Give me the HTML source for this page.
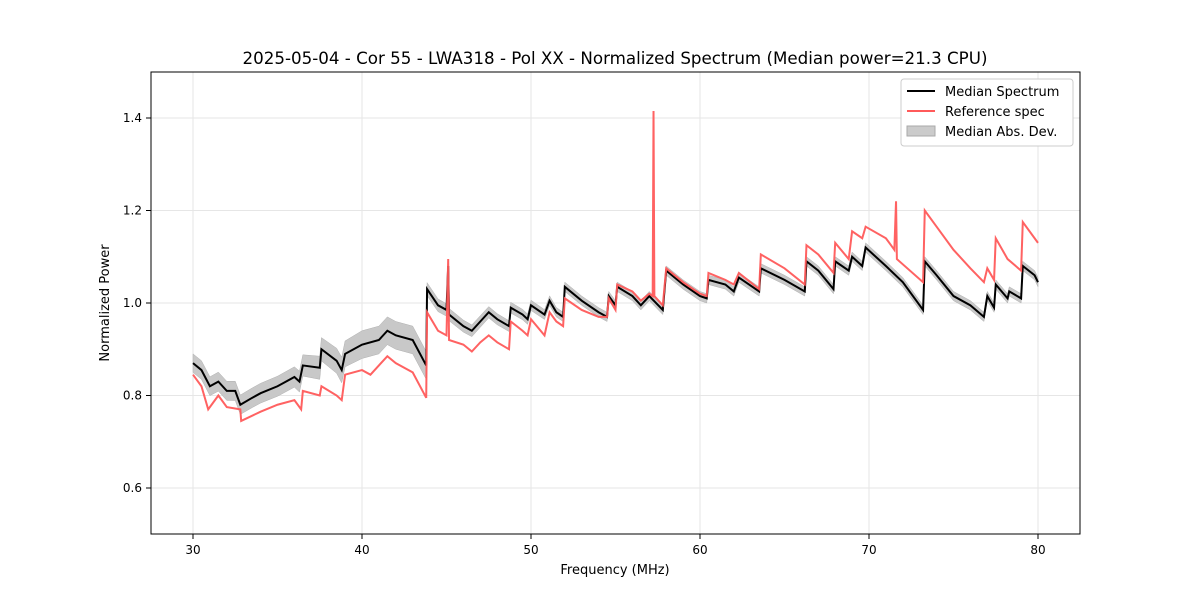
<!DOCTYPE html>
<html><head><meta charset="utf-8">
<style>
body{margin:0;background:#fff;font-family:"Liberation Sans","DejaVu Sans",sans-serif;}
svg text{font-family:"DejaVu Sans","Liberation Sans",sans-serif;}
</style></head>
<body>
<svg id="chart" width="1200" height="600" viewBox="0 0 1200 600">
<rect width="1200" height="600" fill="#fff"/>
<text x="615" y="64" text-anchor="middle" font-size="16.7">2025-05-04 - Cor 55 - LWA318 - Pol XX - Normalized Spectrum (Median power=21.3 CPU)</text>
<g id="grid"></g>
<g id="series"></g>
<rect x="151" y="72" width="929" height="462" fill="none" stroke="#000" stroke-width="1"/>
<g id="axes"></g>
<text x="615" y="574" text-anchor="middle" font-size="13">Frequency (MHz)</text>
<text transform="translate(109,303) rotate(-90)" text-anchor="middle" font-size="13">Normalized Power</text>
<g>
<rect x="901" y="79" width="172" height="67" rx="3" fill="#fff" stroke="#ccc"/>
<line x1="907" y1="91" x2="935" y2="91" stroke="#000" stroke-width="2"/>
<text x="945" y="96" font-size="13">Median Spectrum</text>
<line x1="907" y1="111" x2="935" y2="111" stroke="#ff5a5a" stroke-width="2"/>
<text x="945" y="116" font-size="13">Reference spec</text>
<rect x="907" y="126" width="28" height="10" fill="#cbcbcb" stroke="#aaa"/>
<text x="945" y="136" font-size="13">Median Abs. Dev.</text>
</g>
</svg>
<script>
const medFreq=[30,30.5,31,31.5,32,32.5,32.8,33.5,34,35,36,36.3,36.5,37.5,37.6,38.5,38.8,39,40,41,41.5,42,43,43.8,43.85,44.5,45,45.1,45.15,46,46.5,47,47.5,48,48.7,48.8,49.5,49.8,50,50.8,51.1,51.5,51.9,52,53,54,54.5,54.6,55,55.1,56,56.5,57,57.8,58,59,60,60.4,60.5,61.5,62,62.3,63.5,63.6,65,66.2,66.3,67,67.9,68,68.8,69,69.6,69.8,71,72,73.2,73.3,74,75,76,76.8,77,77.4,77.5,78.2,78.3,79,79.1,79.8,80];
const medVal=[0.87,0.855,0.82,0.83,0.81,0.81,0.78,0.795,0.805,0.82,0.84,0.83,0.865,0.86,0.9,0.875,0.855,0.89,0.91,0.92,0.94,0.93,0.92,0.865,1.03,0.995,0.985,1.08,0.975,0.95,0.94,0.96,0.98,0.965,0.95,0.99,0.975,0.965,0.995,0.975,1.005,0.98,0.97,1.035,1.005,0.98,0.97,1.015,0.995,1.035,1.015,0.995,1.015,0.985,1.07,1.04,1.015,1.01,1.05,1.04,1.025,1.055,1.025,1.075,1.05,1.025,1.09,1.07,1.03,1.09,1.07,1.1,1.08,1.12,1.08,1.045,0.985,1.09,1.06,1.015,0.995,0.97,1.015,0.99,1.04,1.01,1.025,1.01,1.08,1.06,1.045];
const madFreq=[30,36,40,43.8,43.85,52,80];
const madWidth=[0.02,0.022,0.03,0.03,0.014,0.01,0.01];
const refFreq=[30,30.5,30.9,31.5,32,32.8,32.85,34,35,36,36.4,36.5,37.5,37.6,38.5,38.8,39,40,40.5,41,41.5,42,43,43.8,43.85,44.5,45,45.1,45.15,46,46.5,47,47.5,48,48.7,48.8,49.5,49.8,50,50.8,51.1,51.5,51.9,52,53,54,54.5,54.6,55,55.1,56,56.5,57,57.2,57.25,57.3,57.8,58,59,60,60.4,60.5,61.5,62,62.3,63.5,63.6,65,66.2,66.3,67,67.9,68,68.8,69,69.6,69.8,71,71.5,71.6,71.65,73.2,73.3,74,75,76,76.8,77,77.4,77.5,78.2,79,79.1,80];
const refVal=[0.845,0.82,0.77,0.8,0.775,0.77,0.745,0.765,0.78,0.79,0.77,0.81,0.8,0.82,0.8,0.79,0.845,0.855,0.845,0.865,0.885,0.87,0.85,0.795,0.98,0.94,0.93,1.095,0.92,0.91,0.895,0.915,0.93,0.915,0.9,0.96,0.94,0.93,0.965,0.93,0.98,0.96,0.95,1.01,0.985,0.97,0.97,1.01,0.985,1.04,1.025,1.005,1.02,1.015,1.415,1.015,0.995,1.075,1.045,1.02,1.015,1.065,1.05,1.04,1.065,1.03,1.105,1.075,1.04,1.125,1.105,1.065,1.13,1.095,1.155,1.14,1.165,1.14,1.115,1.22,1.095,1.045,1.2,1.165,1.115,1.075,1.045,1.075,1.05,1.14,1.095,1.07,1.175,1.13];
const xTicks=[30,40,50,60,70,80];
const yTicks=[0.6,0.8,1.0,1.2,1.4];
const yTickLabels=["0.6","0.8","1.0","1.2","1.4"];

const NS="http://www.w3.org/2000/svg";
const X=f=>193+(f-30)*16.9;
const Y=v=>303-(v-1)*462.5;
function mk(tag,attrs,parent){const e=document.createElementNS(NS,tag);for(const k in attrs)e.setAttribute(k,attrs[k]);parent.appendChild(e);return e;}
function madAt(f){for(let i=1;i<madFreq.length;i++){if(f<=madFreq[i]){const t=(f-madFreq[i-1])/(madFreq[i]-madFreq[i-1]);return madWidth[i-1]+t*(madWidth[i]-madWidth[i-1]);}}return madWidth[madWidth.length-1];}
const grid=document.getElementById('grid'),axes=document.getElementById('axes'),ser=document.getElementById('series');
xTicks.forEach(t=>{
 const g=mk('line',{x1:X(t),x2:X(t),y1:72,y2:534,stroke:'#e6e6e6'},grid);
 
 
 const tk=mk('line',{x1:X(t),x2:X(t),y1:534,y2:539,stroke:'#000'},axes);
 
 
 const tx=mk('text',{x:X(t),y:554,'text-anchor':'middle','font-size':12},axes);
 tx.textContent=t;
 
 
});
yTicks.forEach((t,i)=>{
 const g=mk('line',{x1:151,x2:1080,y1:Y(t),y2:Y(t),stroke:'#e6e6e6'},grid);
 
 
 const tk=mk('line',{x1:146,x2:151,y1:Y(t),y2:Y(t),stroke:'#000'},axes);
 
 
 const tx=mk('text',{x:142,y:Y(t)+4,'text-anchor':'end','font-size':12},axes);
 tx.textContent=yTickLabels[i];
 
 
});
let up=medFreq.map((f,i)=>X(f)+','+Y(medVal[i]+madAt(f))).join(' ');
let dn=medFreq.map((f,i)=>X(f)+','+Y(medVal[i]-madAt(f))).reverse().join(' ');
const band=mk('polygon',{points:up+' '+dn,fill:'#c8c8c8',stroke:'#b0b0b0','stroke-width':0.5},ser);


const med=mk('polyline',{points:medFreq.map((f,i)=>X(f)+','+Y(medVal[i])).join(' '),fill:'none',stroke:'#000','stroke-width':2},ser);


const ref=mk('polyline',{points:refFreq.map((f,i)=>X(f)+','+Y(refVal[i])).join(' '),fill:'none',stroke:'#ff5a5a','stroke-width':2,'stroke-opacity':0.95},ser);


</script>
</body></html>
